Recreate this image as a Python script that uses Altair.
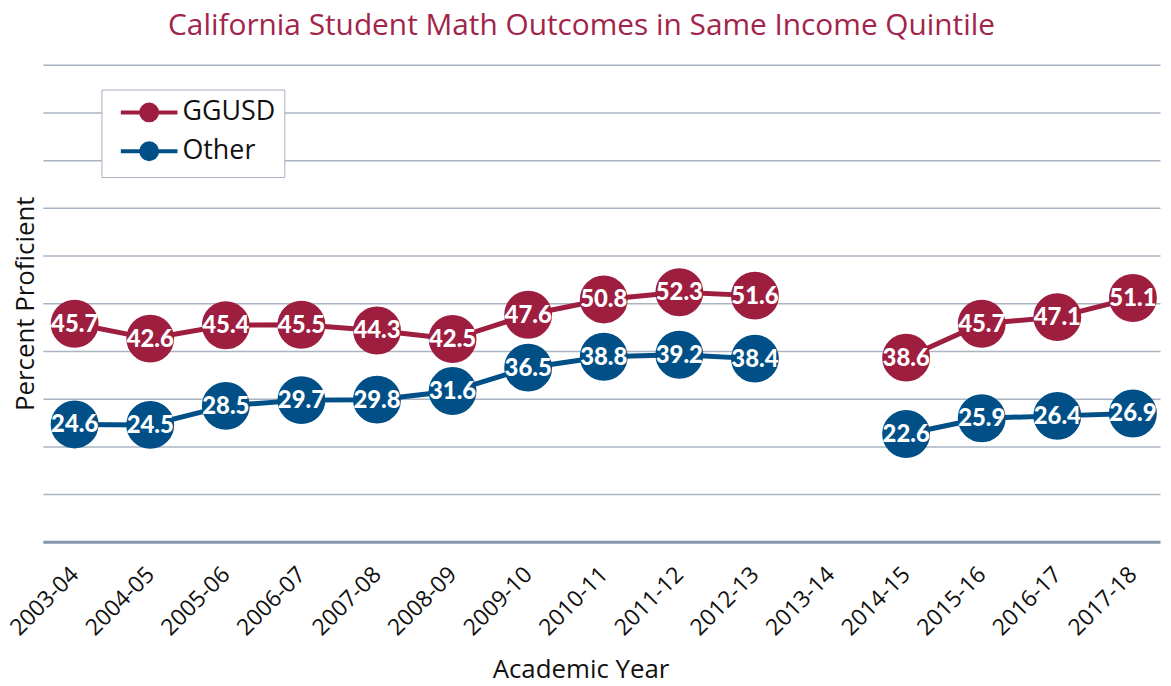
import altair as alt
import pandas as pd

years = ["2003-04", "2004-05", "2005-06", "2006-07", "2007-08", "2008-09", "2009-10",
         "2010-11", "2011-12", "2012-13", "2013-14", "2014-15", "2015-16", "2016-17", "2017-18"]
ggusd = [45.7, 42.6, 45.4, 45.5, 44.3, 42.5, 47.6, 50.8, 52.3, 51.6, None, 38.6, 45.7, 47.1, 51.1]
other = [24.6, 24.5, 28.5, 29.7, 29.8, 31.6, 36.5, 38.8, 39.2, 38.4, None, 22.6, 25.9, 26.4, 26.9]
series = ["GGUSD", "Other"]
colors = ["#9e1e40", "#005087"]
grid_values = [10, 20, 30, 40, 50, 60, 70, 80, 90, 100]

rows = []
for s, vals in zip(series, [ggusd, other]):
    for yr, v in zip(years, vals):
        rows.append({"year": yr, "group": s, "value": v})
df = pd.DataFrame(rows)

# legend glyph: a short line with a dot on it (unit size = sqrt(symbolSize)/2)
legend_path = ("M-2.375,0L2.375,0M-0.667,0A0.667,0.667,0,1,1,0.667,0"
               "A0.667,0.667,0,1,1,-0.667,0Z")

x_enc = alt.X(
    "year:N",
    sort=years,
    scale=alt.Scale(type="point", domain=years, padding=0.39, align=0.54),
    axis=alt.Axis(
        title="Academic Year", labelAngle=-45, labelAlign="right", labelBaseline="middle",
        labelPadding=29, labelFontSize=23, labelFont="Open Sans", labelColor="#111111",
        ticks=False, domain=True, domainColor="#8796ab", domainWidth=3, grid=False,
        titleFontSize=26, titleFont="Open Sans", titleFontWeight="normal", titleColor="#111111",
        titleX=541, titleY=137, titleBaseline="alphabetic", titleAnchor="middle",
        labelOverlap=False, labelBound=False,
    ),
)
y_enc = alt.Y(
    "value:Q",
    scale=alt.Scale(domain=[0, 100], nice=False, zero=True),
    axis=alt.Axis(
        title="Percent Proficient", labels=False, ticks=False, domain=False, grid=True,
        values=grid_values, gridColor="#aab4c3", gridWidth=1.5,
        titleFontSize=26, titleFont="Open Sans", titleFontWeight="normal", titleColor="#111111",
        titlePadding=4,
    ),
)
color_scale = alt.Scale(domain=series, range=colors)
legend = alt.Legend(
    title=None, orient="none", legendX=59, legendY=25, symbolType=legend_path,
    symbolSize=576, symbolStrokeWidth=4, symbolOffset=25,
    labelFontSize=27, labelFont="Open Sans", labelColor="#111111", labelOffset=19.5,
    padding=9, rowPadding=5,
    fillColor="white", strokeColor="#a7b1bf", cornerRadius=0, symbolOpacity=1,
)

base = alt.Chart(df)
line_layers = [
    base.transform_filter(alt.datum.group == s).mark_line(
        strokeWidth=5, color=c, invalid="break-paths-show-domains"
    ).encode(x=x_enc, y=y_enc)
    for s, c in zip(series, colors)
]
dots = base.mark_circle(size=1950, opacity=1, strokeWidth=4).encode(
    x=x_enc, y=y_enc,
    color=alt.Color("group:N", scale=color_scale, legend=legend),
    stroke=alt.Stroke("group:N", scale=color_scale, legend=legend))
labels = base.mark_text(font="Lato", fontWeight=900, fontSize=24, color="white",
                        baseline="middle", align="center", dy=1).encode(
    x=x_enc, y=y_enc, text=alt.Text("value:Q", format=".1f"))

chart = alt.layer(*line_layers, dots, labels).properties(
    width=1124, height=480,
    autosize=alt.AutoSizeParams(type="none"),
    padding={"left": 35, "top": 55, "right": 3, "bottom": 143},
    title=alt.TitleParams(
        "California Student Math Outcomes in Same Income Quintile",
        fontSize=30, font="Open Sans", fontWeight="normal", color="#a3244a",
        anchor="middle", frame="group", dx=-20, offset=24,
    ),
).configure_view(stroke=None)

chart.save("out.html", embed_options={"renderer": "svg", "actions": False})
